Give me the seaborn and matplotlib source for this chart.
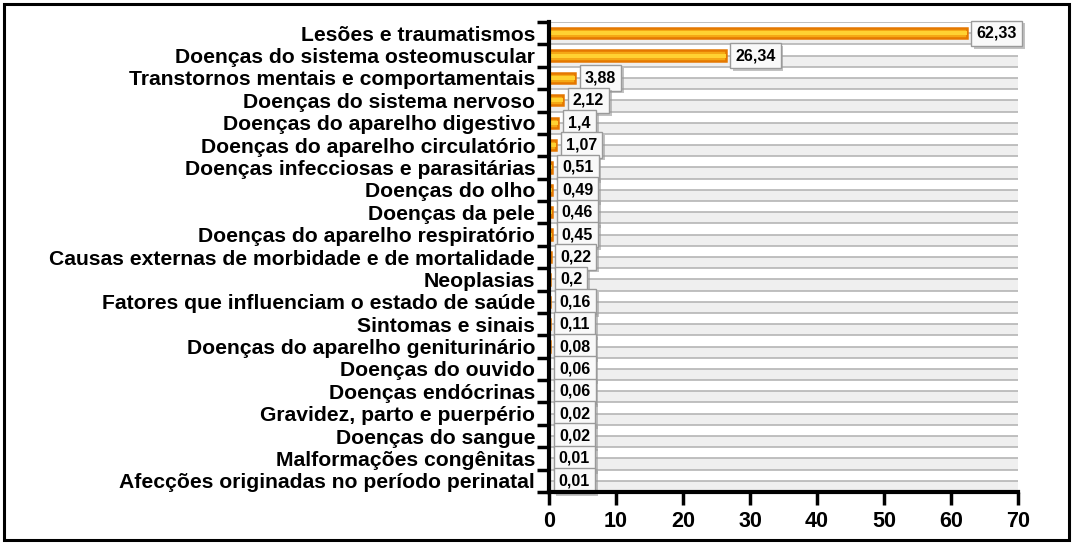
import numpy as np
import matplotlib.pyplot as plt
import matplotlib.patches as mpatches
import matplotlib.patheffects as pe
import seaborn as sns

categories = [
    "Lesões e traumatismos",
    "Doenças do sistema osteomuscular",
    "Transtornos mentais e comportamentais",
    "Doenças do sistema nervoso",
    "Doenças do aparelho digestivo",
    "Doenças do aparelho circulatório",
    "Doenças infecciosas e parasitárias",
    "Doenças do olho",
    "Doenças da pele",
    "Doenças do aparelho respiratório",
    "Causas externas de morbidade e de mortalidade",
    "Neoplasias",
    "Fatores que influenciam o estado de saúde",
    "Sintomas e sinais",
    "Doenças do aparelho geniturinário",
    "Doenças do ouvido",
    "Doenças endócrinas",
    "Gravidez, parto e puerpério",
    "Doenças do sangue",
    "Malformações congênitas",
    "Afecções originadas no período perinatal",
]
values = [62.33, 26.34, 3.88, 2.12, 1.4, 1.07, 0.51, 0.49, 0.46, 0.45,
          0.22, 0.2, 0.16, 0.11, 0.08, 0.06, 0.06, 0.02, 0.02, 0.01, 0.01]
x_ticks = [0, 10, 20, 30, 40, 50, 60, 70]

sns.set_theme(style="white")
plt.rcParams["font.family"] = ["Liberation Sans", "DejaVu Sans"]
plt.rcParams["font.weight"] = "bold"
plt.rcParams["text.color"] = "black"
plt.rcParams["xtick.color"] = "black"
plt.rcParams["ytick.color"] = "black"

fig = plt.figure(figsize=(10.74, 5.47), dpi=100)
ax = fig.add_axes([0.5112, 0.1005, 0.4367, 0.8593])

n = len(categories)
# alternating half-row bands + grey lines
for i in range(n):
    ax.axhspan(i, i + 0.5, color="#efefef", zorder=0, lw=0)
for y in np.arange(-0.5, n, 0.5):
    ax.axhline(y, color="#b5b5b5", lw=1.2, zorder=0.5)

sns.barplot(x=values, y=categories, orient="h", ax=ax, color="#f5a815",
            edgecolor="#e57800", linewidth=1.8, width=0.46, saturation=1, zorder=2)
ax.barh(range(n), values, height=0.18, color="#ffd232", lw=0, zorder=3)

for i, v in enumerate(values):
    t = ax.annotate(f"{v:g}".replace(".", ","), xy=(v, i), xytext=(7, 0),
                    textcoords="offset points", ha="left", va="center",
                    fontsize=11.5, fontweight="bold", color="black", zorder=5,
                    bbox=dict(boxstyle="square,pad=0.32", fc="#f9f9f9", ec="#9a9a9a", lw=1))
    t.get_bbox_patch().set_path_effects(
        [pe.SimplePatchShadow(offset=(2, -2), shadow_rgbFace="#9a9a9a", alpha=0.6), pe.Normal()])

ax.set_xlim(0, 70)
ax.set_ylim(n - 0.5, -0.5)
ax.set_xticks(x_ticks)
ax.set_xticklabels([str(t) for t in x_ticks], fontsize=15.5, fontweight="bold", color="black")
ax.set_yticks(range(n))
ax.set_yticklabels(categories, fontsize=15.2, fontweight="bold", color="black")
ax.set_yticks(np.arange(-0.5, n, 1), minor=True)
ax.tick_params(axis="y", which="major", left=True, length=0, pad=10)
ax.tick_params(axis="y", which="minor", left=True, length=9, width=2.5, color="black", direction="out")
ax.tick_params(axis="x", which="major", bottom=True, length=9, width=2.5, color="black",
               direction="out", pad=5)
ax.set_xlabel("")
ax.set_ylabel("")

for side in ["top", "right"]:
    ax.spines[side].set_visible(False)
for side in ["left", "bottom"]:
    ax.spines[side].set_linewidth(3)
    ax.spines[side].set_color("black")
    ax.spines[side].set_zorder(6)

fig.patches.append(mpatches.Rectangle((4 / 1074, 7 / 547), 1065 / 1074, 536 / 547,
                                      transform=fig.transFigure, fill=False,
                                      ec="black", lw=2.2))

fig.savefig("out.png", dpi=100)
